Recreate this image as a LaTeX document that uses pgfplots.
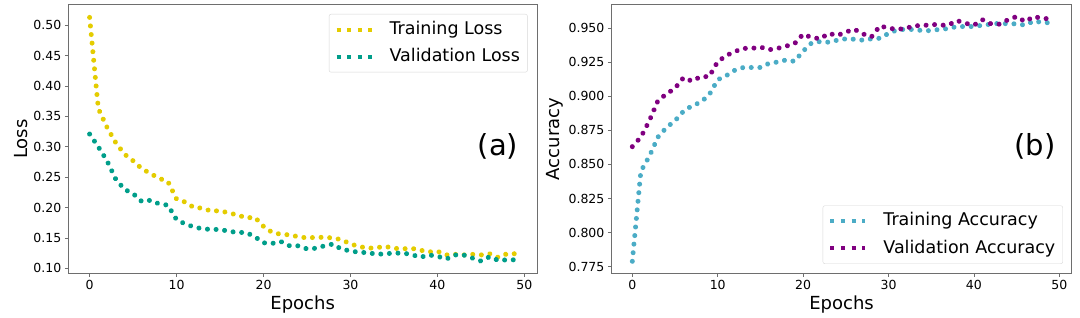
\documentclass[border=0pt]{standalone}
\usepackage{pgfplots}
\pgfplotsset{compat=1.18}
\usepackage{fontspec}
\setmainfont{DejaVu Sans}
\definecolor{framecol}{RGB}{110,110,110}
\definecolor{trainloss}{RGB}{228,204,0}
\definecolor{valloss}{RGB}{0,158,138}
\definecolor{trainacc}{RGB}{75,172,198}
\definecolor{valacc}{RGB}{128,0,128}
\definecolor{legframe}{RGB}{215,215,215}
\pgfplotsset{
  mystyle/.style={
    scale only axis,
    height=268.6pt,
    tick align=outside,
    tick pos=left,
    major tick length=3.5pt,
    axis line style={framecol, line width=0.8pt},
    every tick/.style={framecol, line width=0.8pt},
    xtick={0,10,...,50},
    xmin=-2.45, xmax=51.45,
    ticklabel style={font=\fontsize{12.5}{14}\selectfont},
    /pgf/number format/assume math mode=true,
    label style={font=\fontsize{18}{20}\selectfont},
    xlabel style={at={(axis description cs:0.5,-0.1329)}, anchor=base},
    legend cell align=left,
    legend style={draw=legframe, rounded corners=2pt, fill=white,
      font=\fontsize{17.5}{20}\selectfont,
      inner xsep=5.5pt, inner ysep=4.6pt, row sep=5.8pt, column sep=14pt,
      nodes={text height=13.5pt, text depth=4pt, inner sep=2pt}},
    legend image code/.code={\draw[##1, line width=4pt, line cap=butt, dash pattern=on 4pt off 6.6pt] (0pt,0pt) -- (35pt,0pt);},
    every axis plot/.append style={line width=5pt, line cap=round, dash pattern=on 0.01pt off 8.6pt, line join=round},
  }
}
\begin{document}
\begin{tikzpicture}[x=1pt,y=1pt]
\useasboundingbox (0,0) rectangle (1080,317);
\begin{axis}[mystyle,
  at={(68.3pt,43.7pt)}, anchor=south west,
  width=468.7pt,
  ymin=0.0918, ymax=0.5339,
  ytick={0.10,0.15,...,0.51},
  yticklabel style={/pgf/number format/.cd, fixed, fixed zerofill, precision=2},
  xlabel={Epochs}, ylabel={Loss},
  ylabel style={at={(axis description cs:-0.0868,0.5)}, anchor=base},
  legend style={at={(rel axis cs:0.980,0.9654)}, anchor=north east},
]
\addplot[trainloss] coordinates {
(0,0.513) (1,0.363) (2,0.332) (3,0.307) (4,0.288) (5,0.277) (6,0.264) (7,0.256) (8,0.248) (9,0.243)
(10,0.214) (11,0.209) (12,0.200) (13,0.199) (14,0.194) (15,0.195) (16,0.191) (17,0.188) (18,0.183) (19,0.184)
(20,0.169) (21,0.159) (22,0.156) (23,0.155) (24,0.152) (25,0.150) (26,0.151) (27,0.151) (28,0.150) (29,0.147)
(30,0.140) (31,0.136) (32,0.133) (33,0.134) (34,0.136) (35,0.133) (36,0.132) (37,0.133) (38,0.130) (39,0.127)
(40,0.128) (41,0.122) (42,0.123) (43,0.122) (44,0.123) (45,0.122) (46,0.124) (47,0.118) (48,0.124) (49,0.124)
};
\addlegendentry{Training Loss}
\addplot[valloss] coordinates {
(0,0.321) (1,0.300) (2,0.277) (3,0.247) (4,0.230) (5,0.223) (6,0.210) (7,0.212) (8,0.206) (9,0.204)
(10,0.180) (11,0.173) (12,0.168) (13,0.165) (14,0.164) (15,0.164) (16,0.161) (17,0.159) (18,0.159) (19,0.152)
(20,0.142) (21,0.141) (22,0.144) (23,0.137) (24,0.137) (25,0.132) (26,0.133) (27,0.137) (28,0.140) (29,0.131)
(30,0.129) (31,0.126) (32,0.126) (33,0.123) (34,0.124) (35,0.125) (36,0.125) (37,0.123) (38,0.118) (39,0.122)
(40,0.120) (41,0.115) (42,0.122) (43,0.122) (44,0.117) (45,0.112) (46,0.119) (47,0.113) (48,0.114) (49,0.114)
};
\addlegendentry{Validation Loss}
\node[font=\fontsize{29}{32}\selectfont] at (rel axis cs:0.917,0.474) {(a)};
\end{axis}
\begin{axis}[mystyle,
  at={(611.4pt,43.7pt)}, anchor=south west,
  width=460.3pt,
  ymin=0.7702, ymax=0.9670,
  ytick={0.775,0.800,...,0.951},
  yticklabel style={/pgf/number format/.cd, fixed, fixed zerofill, precision=3},
  xlabel={Epochs}, ylabel={Accuracy},
  ylabel style={at={(axis description cs:-0.1117,0.5)}, anchor=base},
  legend style={at={(rel axis cs:0.981,0.035)}, anchor=south east},
]
\addplot[trainacc] coordinates {
(0,0.779) (1,0.845) (2,0.856) (3,0.870) (4,0.877) (5,0.882) (6,0.889) (7,0.893) (8,0.8955) (9,0.901)
(10,0.912) (11,0.915) (12,0.919) (13,0.921) (14,0.921) (15,0.921) (16,0.924) (17,0.925) (18,0.9265) (19,0.9255)
(20,0.933) (21,0.939) (22,0.940) (23,0.9395) (24,0.941) (25,0.942) (26,0.9417) (27,0.941) (28,0.942) (29,0.9424)
(30,0.946) (31,0.9485) (32,0.949) (33,0.9488) (34,0.948) (35,0.948) (36,0.949) (37,0.9495) (38,0.951) (39,0.951)
(40,0.951) (41,0.952) (42,0.9527) (43,0.9534) (44,0.953) (45,0.953) (46,0.952) (47,0.955) (48,0.954) (49,0.9537)
};
\addlegendentry{Training Accuracy}
\addplot[valacc] coordinates {
(0,0.863) (1,0.870) (2,0.882) (3,0.8967) (4,0.9016) (5,0.9058) (6,0.9136) (7,0.911) (8,0.9143) (9,0.9143)
(10,0.9253) (11,0.9297) (12,0.9327) (13,0.935) (14,0.935) (15,0.936) (16,0.934) (17,0.935) (18,0.9366) (19,0.9385)
(20,0.9454) (21,0.943) (22,0.942) (23,0.946) (24,0.9444) (25,0.947) (26,0.949) (27,0.9456) (28,0.9434) (29,0.9515)
(30,0.9498) (31,0.949) (32,0.9495) (33,0.9517) (34,0.9515) (35,0.9527) (36,0.952) (37,0.952) (38,0.9554) (39,0.9534)
(40,0.952) (41,0.956) (42,0.953) (43,0.9527) (44,0.956) (45,0.9583) (46,0.9546) (47,0.9583) (48,0.957) (49,0.9566)
};
\addlegendentry{Validation Accuracy}
\node[font=\fontsize{29}{32}\selectfont] at (rel axis cs:0.920,0.474) {(b)};
\end{axis}
\end{tikzpicture}
\end{document}
